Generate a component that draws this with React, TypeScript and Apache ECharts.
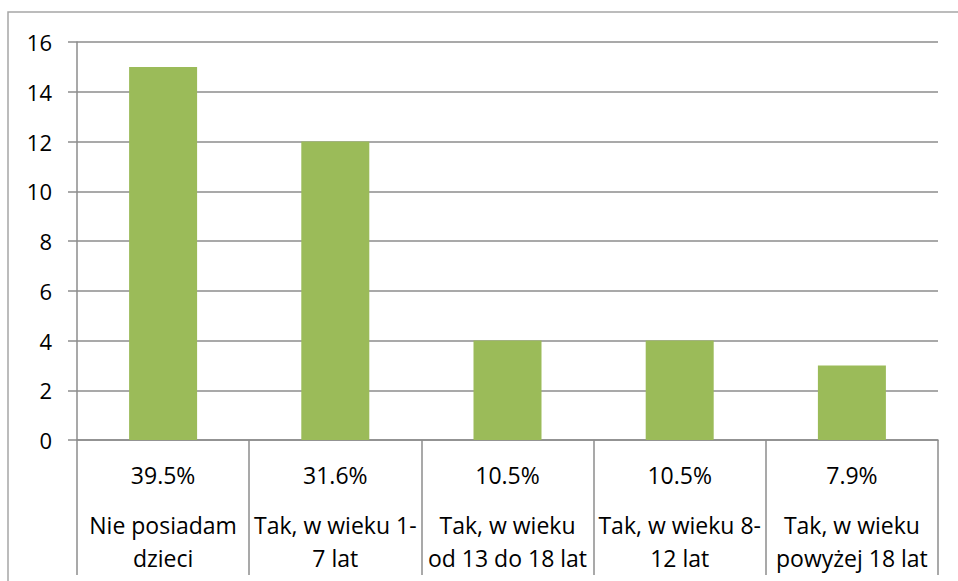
import React, { useEffect, useRef } from "react";
import * as echarts from "echarts";

const categories = [
  "Nie posiadam\ndzieci",
  "Tak, w wieku 1-\n7 lat",
  "Tak, w wieku\nod 13 do 18 lat",
  "Tak, w wieku 8-\n12 lat",
  "Tak, w wieku\npowyżej 18 lat",
];
const percents = ["39.5%", "31.6%", "10.5%", "10.5%", "7.9%"];
const counts = [15, 12, 4, 4, 3];

export default function App() {
  const ref = useRef<HTMLDivElement>(null);
  useEffect(() => {
    if (!ref.current) return;
    const chart = echarts.init(ref.current, null, { renderer: "svg" });
    const font = "'Open Sans', sans-serif";
    chart.setOption({
      animation: false,
      textStyle: { fontFamily: font },
      grid: { left: 77, right: 20, top: 42, bottom: 141, containLabel: false },
      graphic: [
        {
          type: "rect",
          shape: { x: 8, y: 12, width: 1200, height: 1000 },
          style: { fill: "none", stroke: "#a6a6a6", lineWidth: 1.5 },
          silent: true,
        },
      ],
      xAxis: {
        type: "category",
        data: categories,
        axisLine: { show: true, lineStyle: { color: "#8c8c8c", width: 1.5 } },
        axisTick: {
          show: true,
          interval: 0,
          length: 135,
          lineStyle: { color: "#8c8c8c", width: 1.5 },
        },
        axisLabel: {
          interval: 0,
          margin: 18,
          formatter: (v: string, i: number) => {
            const lines = v.split("\n");
            return [`{p|${percents[i]}}`, "{g|}", ...lines.map((l) => `{n|${l}}`)].join("\n");
          },
          rich: {
            p: { fontSize: 23, lineHeight: 33, color: "#000", fontFamily: font },
            g: { fontSize: 23, lineHeight: 17, color: "#000", fontFamily: font },
            n: { fontSize: 23, lineHeight: 33, color: "#000", fontFamily: font },
          },
        },
        splitLine: { show: false },
      },
      yAxis: {
        type: "value",
        min: 0,
        max: 16,
        interval: 2,
        axisLine: { show: true, lineStyle: { color: "#8c8c8c", width: 1.5 } },
        axisTick: { show: true, length: 9, lineStyle: { color: "#8c8c8c", width: 1.5 } },
        axisLabel: { fontSize: 22, color: "#000", margin: 25, fontFamily: font },
        splitLine: { show: true, lineStyle: { color: "#8c8c8c", width: 1.5 } },
      },
      series: [
        {
          type: "bar",
          data: counts,
          barWidth: 68,
          itemStyle: { color: "#9bbb59" },
        },
      ],
    });
    return () => chart.dispose();
  }, []);
  return (
    <div
      ref={ref}
      style={{ position: "fixed", left: 0, top: 0, width: 958, height: 581, background: "#fff" }}
    />
  );
}
